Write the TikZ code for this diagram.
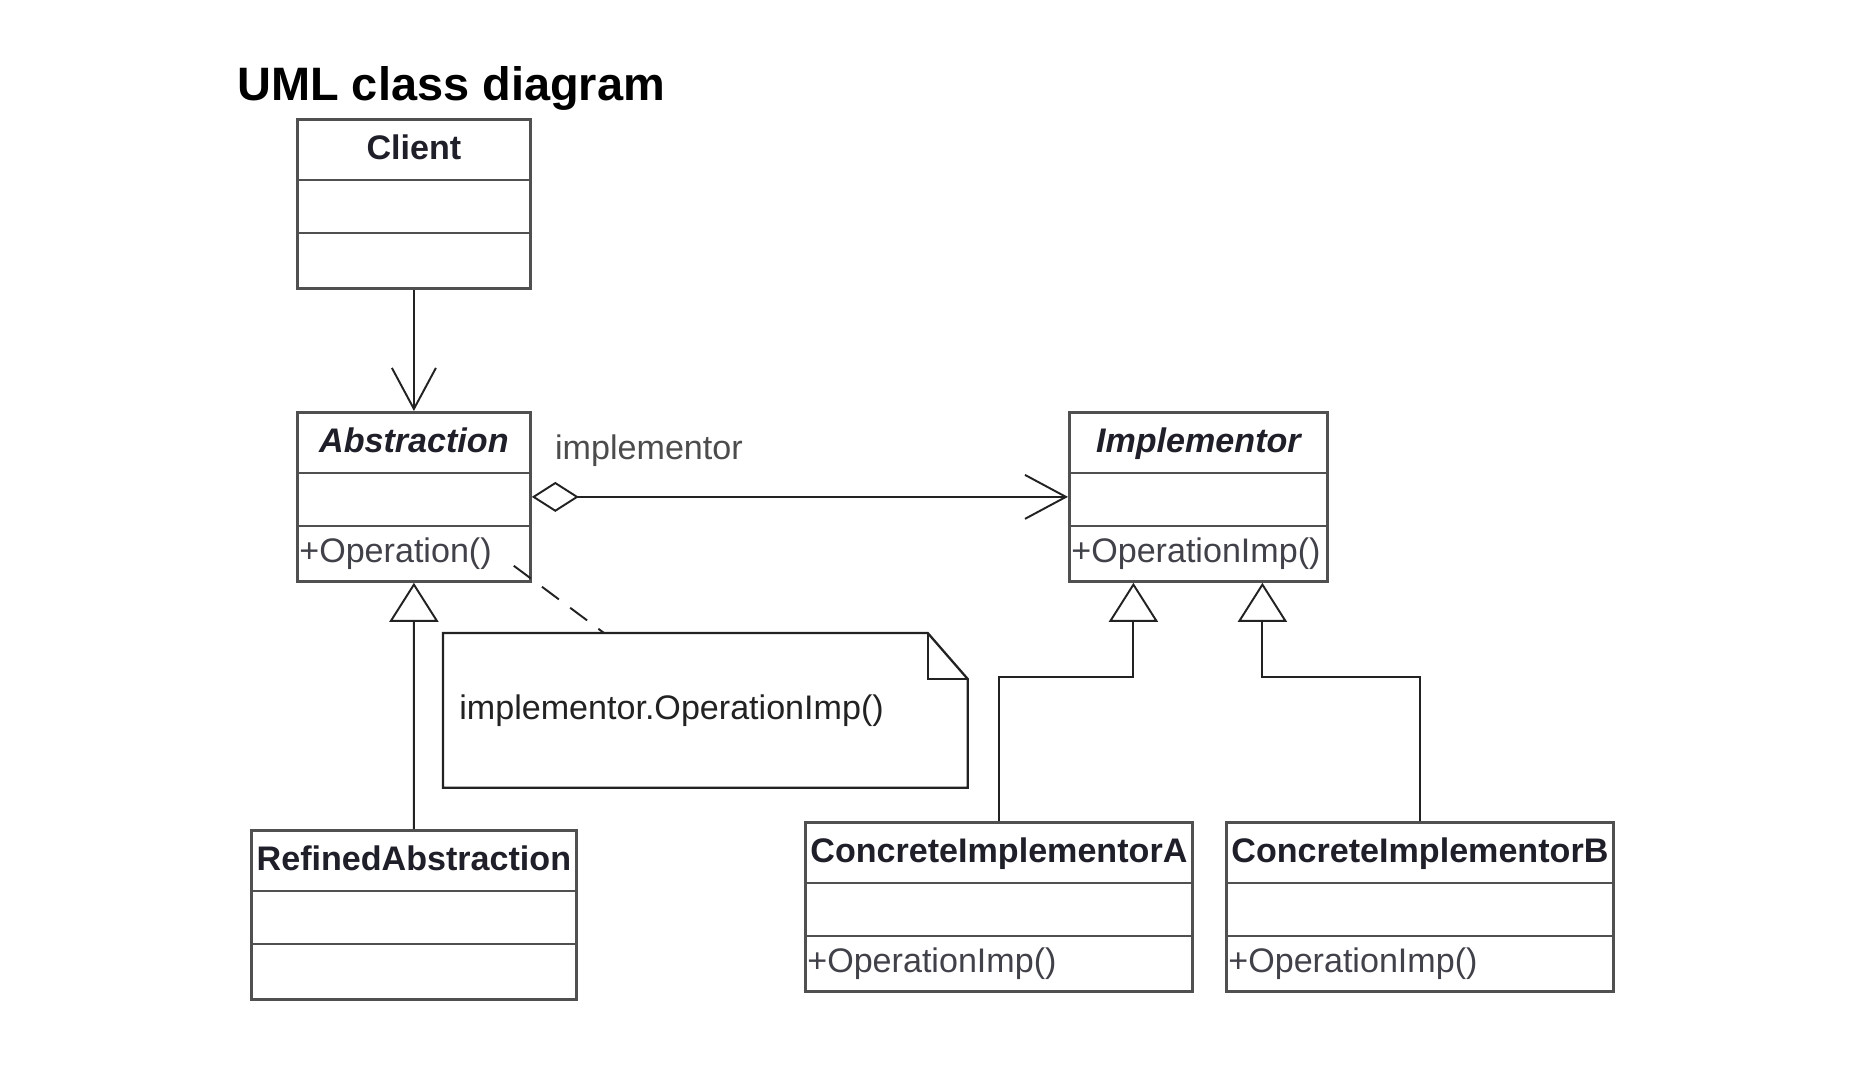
\documentclass[tikz,border=0pt]{standalone}
\usepackage{fontspec}
\setmainfont{Liberation Sans}
\usepackage{xcolor}
\usepackage{tikz}
\usetikzlibrary{arrows.meta, positioning}

\definecolor{boxline}{HTML}{505050}
\definecolor{wireline}{HTML}{222222}
\definecolor{umltext}{HTML}{1F1F2A}

% one class: name, north-west corner, width, title, operation
\newcommand{\umlclass}[5]{%
  \node[classbox, minimum width=#3, anchor=north west] (#1) at (#2) {};
  \draw[classline] ([yshift=-1.24cm]#1.north west) -- ([yshift=-1.24cm]#1.north east);
  \draw[classline] ([yshift=-2.30cm]#1.north west) -- ([yshift=-2.30cm]#1.north east);
  \node[classname, anchor=base] (#1-title) at ([yshift=-0.84cm]#1.north) {#4};
  \node[classop, anchor=base west] (#1-op) at ([yshift=0.40cm]#1.south west) {#5};
}

\begin{document}
\begin{tikzpicture}[
    classbox/.style={draw=boxline, line width=1.6pt, minimum height=3.38cm, inner sep=0pt},
    classline/.style={draw=boxline, line width=1.6pt},
    classname/.style={font=\fontsize{19.4}{23}\selectfont\bfseries, text=umltext},
    classop/.style={font=\fontsize{19.4}{23}\selectfont, text=umltext!85, inner sep=0.06cm},
    wire/.style={draw=wireline, line width=1.1pt},
    assoc/.style={wire, -{Straight Barb[length=0.82cm, width=0.88cm]}},
    aggr/.style={wire, {Diamond[open, length=0.94cm, width=0.6cm]}-{Straight Barb[length=0.82cm, width=0.88cm]}},
    inherit/.style={wire, -{Triangle[open, length=0.78cm, width=0.98cm]}},
    notelink/.style={wire, dash pattern=on 12pt off 8pt},
    noteline/.style={draw=wireline, line width=1.3pt}
  ]
  \useasboundingbox[fill=white] (0,0) rectangle (37.12,21.4);

  % heading
  \node[anchor=base west, inner sep=0pt, font=\fontsize{26.7}{30}\selectfont\bfseries] (heading) at (4.74,19.38) {UML class diagram};

  % classes
  \umlclass{client}{5.92,19.04}{4.66cm}{Client}{}
  \umlclass{abstraction}{5.92,13.18}{4.66cm}{\itshape Abstraction}{+Operation()}
  \umlclass{implementor}{21.36,13.18}{5.16cm}{\itshape Implementor}{+OperationImp()}
  \umlclass{refined}{5.00,4.82}{6.50cm}{RefinedAbstraction}{}
  \umlclass{concreteA}{16.08,4.98}{7.74cm}{ConcreteImplementorA}{+OperationImp()}
  \umlclass{concreteB}{24.50,4.98}{7.74cm}{ConcreteImplementorB}{+OperationImp()}

  % note
  \node[minimum width=10.48cm, minimum height=3.08cm, anchor=north west, inner sep=0pt] (note) at (8.86,8.74) {};
  \draw[noteline] (note.north west) -- ([xshift=-0.8cm]note.north east) -- ([yshift=-0.92cm]note.north east)
    -- (note.south east) -- (note.south west) -- cycle;
  \draw[noteline] ([xshift=-0.8cm]note.north east) |- ([yshift=-0.92cm]note.north east);
  \node[classop, text=wireline, anchor=west] (note-text) at ([xshift=0.26cm]note.west) {implementor.OperationImp()};

  % connectors
  \draw[assoc] (client) -- (abstraction);
  \draw[aggr] (abstraction) -- (implementor);
  \node[classop, text=black!70, anchor=base west, inner sep=0pt] (role) at ([xshift=0.46cm, yshift=0.75cm]abstraction.east) {implementor};
  \draw[inherit] (refined) -- (abstraction);
  \draw[inherit] (concreteA.north) -- ++(0,2.88) -| ([xshift=-1.30cm]implementor.south);
  \draw[inherit] (concreteB.north) -- ++(0,2.88) -| ([xshift=1.28cm]implementor.south);
  \coordinate (opnote) at ([xshift=-0.36cm, yshift=0.34cm]abstraction.south east);
  \draw[notelink] (opnote) -- ([xshift=3.22cm]note.north west);
\end{tikzpicture}
\end{document}
